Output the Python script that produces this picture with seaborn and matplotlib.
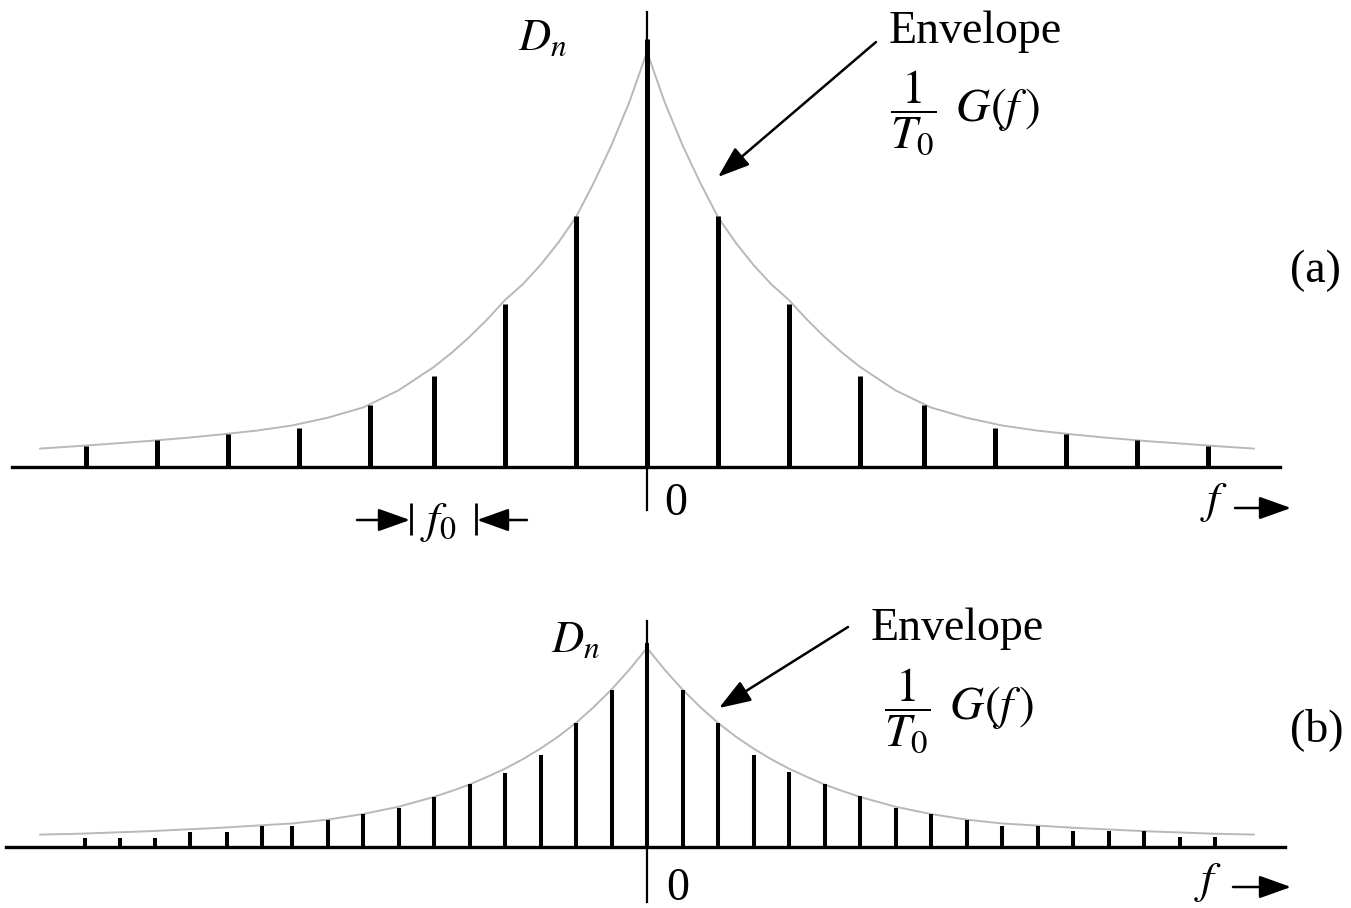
import numpy as np
import matplotlib
matplotlib.use('Agg')
import matplotlib.pyplot as plt
import seaborn as sns

# Line spectrum D_n for two periods, frequency in units of f0 of panel (a)
freq_a = [-7.9, -6.9, -5.9, -4.9, -3.9, -3.0, -2.0, -1.0, 0.0,
          1.0, 2.0, 3.0, 3.9, 4.9, 5.9, 6.9, 7.9]
amp_a = [0.049, 0.063, 0.077, 0.091, 0.145, 0.213, 0.381, 0.586, 1.0,
         0.586, 0.381, 0.213, 0.145, 0.091, 0.077, 0.063, 0.049]

freq_b = [-7.92, -7.42, -6.93, -6.43, -5.92, -5.42, -5.0, -4.5, -4.0, -3.5,
          -3.0, -2.5, -2.0, -1.5, -1.0, -0.5, 0.0,
          0.5, 1.0, 1.5, 2.0, 2.5, 3.0, 3.5, 4.0, 4.5, 5.0, 5.5, 6.0, 6.5,
          7.0, 7.5, 8.0]
amp_b = [0.022, 0.022, 0.022, 0.036, 0.036, 0.049, 0.049, 0.063, 0.077, 0.091,
         0.117, 0.147, 0.173, 0.215, 0.289, 0.367, 0.477,
         0.367, 0.289, 0.215, 0.175, 0.147, 0.119, 0.092, 0.078, 0.064, 0.050,
         0.050, 0.037, 0.037, 0.037, 0.023, 0.023]

# Envelope (1/T0) G(f), one side (symmetric)
env_f = [0, 0.25, 0.5, 0.75, 1, 1.25, 1.5, 1.75, 2, 2.25, 2.5, 2.75, 3,
         3.5, 4, 4.5, 5, 5.5, 6, 6.5, 7, 7.5, 8, 8.55]
env_a = [0.970, 0.852, 0.752, 0.664, 0.584, 0.524, 0.472, 0.427, 0.390,
         0.345, 0.304, 0.267, 0.234, 0.179, 0.139, 0.115, 0.097, 0.085,
         0.076, 0.068, 0.061, 0.055, 0.049, 0.043]
env_b = [0.465, 0.414, 0.368, 0.327, 0.290, 0.258, 0.230, 0.205, 0.183,
         0.164, 0.146, 0.131, 0.117, 0.094, 0.077, 0.064, 0.055, 0.050,
         0.045, 0.041, 0.037, 0.034, 0.031, 0.029]

sns.set_style('white')
plt.rcParams['font.family'] = ['Liberation Serif', 'DejaVu Serif']
plt.rcParams['mathtext.fontset'] = 'stix'
plt.rcParams['text.color'] = 'black'

fig = plt.figure(figsize=(13.51, 9.08), dpi=100)
ax_a = fig.add_axes([0, 348 / 908, 1, 560 / 908])
ax_b = fig.add_axes([0, 0, 1, 348 / 908])

# pixel -> data helpers for annotations
def fx(px):
    return (px - 647) / 71

def fy_a(py):
    return (467 - py) / 428

def fy_b(py):
    return (847 - py) / 428

ef = np.array(env_f)
full_f = np.concatenate([-ef[::-1], ef[1:]])

# panel (a)
sns.lineplot(x=full_f, y=np.concatenate([env_a[::-1], env_a[1:]]),
             color='#b8b8b8', lw=1.4, ax=ax_a, zorder=2)
ax_a.vlines(freq_a, 0, amp_a, color='black', lw=3.6, capstyle='butt', zorder=3)

# panel (b)
sns.lineplot(x=full_f, y=np.concatenate([env_b[::-1], env_b[1:]]),
             color='#b8b8b8', lw=1.4, ax=ax_b, zorder=2)
ax_b.vlines(freq_b, 0, amp_b, color='black', lw=2.9, capstyle='butt', zorder=3)

for ax, fy, top, bot, (xl, xr), (vt, vb) in [
        (ax_a, fy_a, 0, 560, (12, 1280), (12, 510)),
        (ax_b, fy_b, 560, 908, (6, 1285), (621, 902))]:
    ax.set_xlim(fx(0), fx(1351))
    ax.set_ylim(fy(bot), fy(top))
    ax.set_xticks([])
    ax.set_yticks([])
    ax.patch.set_alpha(0)
    ax.spines[['top', 'right']].set_visible(False)
    ax.spines['bottom'].set_position(('data', 0))
    ax.spines['bottom'].set_bounds(fx(xl), fx(xr))
    ax.spines['bottom'].set_linewidth(2.4)
    ax.spines['left'].set_position(('data', 0))
    ax.spines['left'].set_bounds(fy(vb), fy(vt))
    ax.spines['left'].set_linewidth(1.6)
    for s in ax.spines.values():
        s.set_color('black')

arrow_kw = dict(arrowstyle='-|>,head_length=0.7,head_width=0.25', color='black',
                lw=1.8, mutation_scale=28, shrinkA=0, shrinkB=0)
fs = 33
frac = r'$\dfrac{1}{T_0}\;\,G(f\,)$'

# annotations (a)
ax_a.text(fx(518), fy_a(50), r'$D_n$', fontsize=fs - 1, ha='left', va='baseline')
ax_a.text(fx(889), fy_a(43), 'Envelope', fontsize=fs, ha='left', va='baseline')
ax_a.text(fx(890), fy_a(113), frac, fontsize=fs + 1, ha='left', va='center')
ax_a.annotate('', xy=(fx(718), fy_a(177)), xytext=(fx(876), fy_a(42)),
              arrowprops=arrow_kw)
ax_a.text(fx(1290), fy_a(271), '(a)', fontsize=fs, ha='left', va='center')
ax_a.text(fx(664), fy_a(515), '0', fontsize=fs, ha='left', va='baseline')
ax_a.text(fx(1200), fy_a(513), r'$f$', fontsize=fs, ha='left', va='baseline')
ax_a.annotate('', xy=(fx(1291), fy_a(508)), xytext=(fx(1235), fy_a(508)),
              arrowprops=arrow_kw)

# f0 spacing marker
ax_a.annotate('', xy=(fx(410), fy_a(520)), xytext=(fx(357), fy_a(520)),
              arrowprops=arrow_kw)
ax_a.annotate('', xy=(fx(477), fy_a(520)), xytext=(fx(527), fy_a(520)),
              arrowprops=arrow_kw)
ax_a.vlines([fx(411), fx(476)], fy_a(535), fy_a(503), color='black', lw=2)
ax_a.text(fx(420), fy_a(522), r'$f_0$', fontsize=fs, ha='left', va='center')

# annotations (b)
ax_b.text(fx(551), fy_b(652), r'$D_n$', fontsize=fs - 1, ha='left', va='baseline')
ax_b.text(fx(871), fy_b(640), 'Envelope', fontsize=fs, ha='left', va='baseline')
ax_b.text(fx(884), fy_b(711), frac, fontsize=fs + 1, ha='left', va='center')
ax_b.annotate('', xy=(fx(719), fy_b(708)), xytext=(fx(848), fy_b(627)),
              arrowprops=arrow_kw)
ax_b.text(fx(1290), fy_b(730), '(b)', fontsize=fs, ha='left', va='center')
ax_b.text(fx(666), fy_b(900), '0', fontsize=fs, ha='left', va='baseline')
ax_b.text(fx(1194), fy_b(893), r'$f$', fontsize=fs, ha='left', va='baseline')
ax_b.annotate('', xy=(fx(1291), fy_b(887)), xytext=(fx(1233), fy_b(887)),
              arrowprops=arrow_kw)

fig.savefig('out.png', dpi=100)
